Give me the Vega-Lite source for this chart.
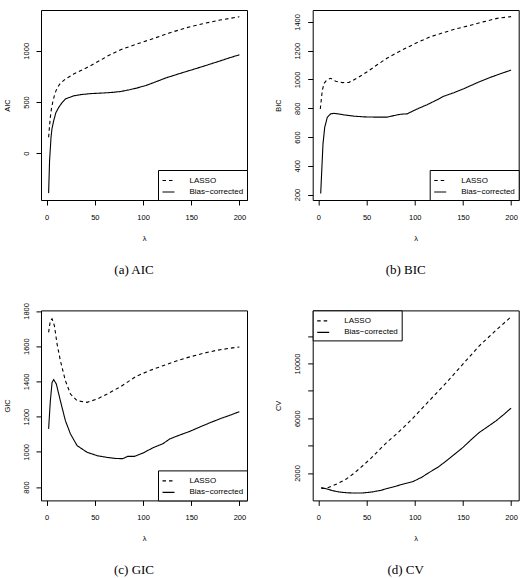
{
  "$schema": "https://vega.github.io/schema/vega-lite/v6.json",
  "background": "white",
  "padding": {"left": 2, "top": 9, "right": 0, "bottom": 0},
  "bounds": "flush",
  "columns": 2,
  "spacing": {"row": 110.4, "column": 65.7},
  "config": {
    "font": "Liberation Sans",
    "view": {"stroke": "black", "strokeWidth": 1},
    "line": {"color": "black", "strokeWidth": 1.1},
    "axis": {
      "domain": false, "grid": false, "ticks": true, "tickColor": "black", "tickSize": 5, "tickWidth": 1,
      "labelFont": "Liberation Sans", "labelFontSize": 7.5, "labelColor": "black",
      "titleFont": "Liberation Sans", "titleFontSize": 7.5, "titleFontWeight": "normal", "titleColor": "black",
      "labelFlush": false, "labelOverlap": false
    },
    "axisX": {"labelPadding": 8, "titlePadding": 14, "labelAngle": 0},
    "axisY": {"labelAngle": -90, "labelAlign": "center", "labelBaseline": "bottom", "labelPadding": 6, "titlePadding": 11},
    "legend": {
      "title": null, "strokeColor": "black", "fillColor": "white", "padding": 3.5, "cornerRadius": 0,
      "labelFont": "Liberation Sans", "labelFontSize": 8, "labelColor": "black", "labelOffset": 14,
      "symbolType": "stroke", "symbolSize": 144, "symbolStrokeWidth": 1, "symbolStrokeColor": "black",
      "rowPadding": 0.5, "offset": 0
    },
    "title": {"font": "Liberation Serif", "fontSize": 13, "fontWeight": "normal", "color": "black", "orient": "bottom", "anchor": "middle", "offset": 22, "dx": -10}
  },
  "datasets": {
    "aic": [
      {"method": "LASSO", "lambda": 2, "value": 156}, {"method": "LASSO", "lambda": 3, "value": 270}, {"method": "LASSO", "lambda": 3.8, "value": 350}, {"method": "LASSO", "lambda": 5, "value": 440}, {"method": "LASSO", "lambda": 6.6, "value": 513}, {"method": "LASSO", "lambda": 8.5, "value": 580}, {"method": "LASSO", "lambda": 10.8, "value": 637}, {"method": "LASSO", "lambda": 14, "value": 680}, {"method": "LASSO", "lambda": 19.4, "value": 724}, {"method": "LASSO", "lambda": 28, "value": 773}, {"method": "LASSO", "lambda": 35, "value": 805}, {"method": "LASSO", "lambda": 45.5, "value": 854}, {"method": "LASSO", "lambda": 58, "value": 920}, {"method": "LASSO", "lambda": 63, "value": 948}, {"method": "LASSO", "lambda": 76.7, "value": 1010}, {"method": "LASSO", "lambda": 93, "value": 1065}, {"method": "LASSO", "lambda": 110, "value": 1117}, {"method": "LASSO", "lambda": 128, "value": 1176}, {"method": "LASSO", "lambda": 145, "value": 1225}, {"method": "LASSO", "lambda": 162, "value": 1264}, {"method": "LASSO", "lambda": 180, "value": 1300}, {"method": "LASSO", "lambda": 200, "value": 1332},
      {"method": "Bias−corrected", "lambda": 2, "value": -389}, {"method": "Bias−corrected", "lambda": 3, "value": -71}, {"method": "Bias−corrected", "lambda": 4.5, "value": 156}, {"method": "Bias−corrected", "lambda": 5.5, "value": 240}, {"method": "Bias−corrected", "lambda": 7.3, "value": 318}, {"method": "Bias−corrected", "lambda": 9.5, "value": 395}, {"method": "Bias−corrected", "lambda": 12.5, "value": 448}, {"method": "Bias−corrected", "lambda": 16, "value": 495}, {"method": "Bias−corrected", "lambda": 19.4, "value": 530}, {"method": "Bias−corrected", "lambda": 28, "value": 560}, {"method": "Bias−corrected", "lambda": 35, "value": 572}, {"method": "Bias−corrected", "lambda": 45.5, "value": 582}, {"method": "Bias−corrected", "lambda": 58, "value": 588}, {"method": "Bias−corrected", "lambda": 68, "value": 594}, {"method": "Bias−corrected", "lambda": 77, "value": 603}, {"method": "Bias−corrected", "lambda": 86, "value": 620}, {"method": "Bias−corrected", "lambda": 93, "value": 635}, {"method": "Bias−corrected", "lambda": 103, "value": 661}, {"method": "Bias−corrected", "lambda": 114, "value": 700}, {"method": "Bias−corrected", "lambda": 124, "value": 736}, {"method": "Bias−corrected", "lambda": 135, "value": 769}, {"method": "Bias−corrected", "lambda": 148.5, "value": 808}, {"method": "Bias−corrected", "lambda": 162, "value": 847}, {"method": "Bias−corrected", "lambda": 176, "value": 889}, {"method": "Bias−corrected", "lambda": 190, "value": 932}, {"method": "Bias−corrected", "lambda": 200, "value": 961}
    ],
    "bic": [
      {"method": "LASSO", "lambda": 2, "value": 795}, {"method": "LASSO", "lambda": 4, "value": 922}, {"method": "LASSO", "lambda": 5.9, "value": 973}, {"method": "LASSO", "lambda": 8.6, "value": 996}, {"method": "LASSO", "lambda": 12.8, "value": 1008}, {"method": "LASSO", "lambda": 18, "value": 987}, {"method": "LASSO", "lambda": 25, "value": 978}, {"method": "LASSO", "lambda": 31.8, "value": 980}, {"method": "LASSO", "lambda": 40.4, "value": 1010}, {"method": "LASSO", "lambda": 50.8, "value": 1054}, {"method": "LASSO", "lambda": 61, "value": 1102}, {"method": "LASSO", "lambda": 71.5, "value": 1149}, {"method": "LASSO", "lambda": 82, "value": 1188}, {"method": "LASSO", "lambda": 92, "value": 1222}, {"method": "LASSO", "lambda": 102.6, "value": 1257}, {"method": "LASSO", "lambda": 116, "value": 1296}, {"method": "LASSO", "lambda": 130, "value": 1326}, {"method": "LASSO", "lambda": 144, "value": 1354}, {"method": "LASSO", "lambda": 158, "value": 1377}, {"method": "LASSO", "lambda": 172, "value": 1402}, {"method": "LASSO", "lambda": 185.5, "value": 1425}, {"method": "LASSO", "lambda": 200, "value": 1437},
      {"method": "Bias−corrected", "lambda": 2.4, "value": 207}, {"method": "Bias−corrected", "lambda": 3.5, "value": 368}, {"method": "Bias−corrected", "lambda": 4.8, "value": 553}, {"method": "Bias−corrected", "lambda": 6.6, "value": 668}, {"method": "Bias−corrected", "lambda": 9.3, "value": 738}, {"method": "Bias−corrected", "lambda": 12.8, "value": 761}, {"method": "Bias−corrected", "lambda": 16.2, "value": 765}, {"method": "Bias−corrected", "lambda": 26.6, "value": 754}, {"method": "Bias−corrected", "lambda": 37, "value": 745}, {"method": "Bias−corrected", "lambda": 47.3, "value": 740}, {"method": "Bias−corrected", "lambda": 61, "value": 738}, {"method": "Bias−corrected", "lambda": 71.5, "value": 738}, {"method": "Bias−corrected", "lambda": 78.4, "value": 749}, {"method": "Bias−corrected", "lambda": 85, "value": 758}, {"method": "Bias−corrected", "lambda": 92, "value": 761}, {"method": "Bias−corrected", "lambda": 102.6, "value": 795}, {"method": "Bias−corrected", "lambda": 113, "value": 825}, {"method": "Bias−corrected", "lambda": 123, "value": 858}, {"method": "Bias−corrected", "lambda": 130, "value": 883}, {"method": "Bias−corrected", "lambda": 140.6, "value": 908}, {"method": "Bias−corrected", "lambda": 151, "value": 936}, {"method": "Bias−corrected", "lambda": 165, "value": 978}, {"method": "Bias−corrected", "lambda": 178.6, "value": 1015}, {"method": "Bias−corrected", "lambda": 192, "value": 1047}, {"method": "Bias−corrected", "lambda": 200, "value": 1065}
    ],
    "gic": [
      {"method": "LASSO", "lambda": 2, "value": 1678}, {"method": "LASSO", "lambda": 3.8, "value": 1745}, {"method": "LASSO", "lambda": 5.6, "value": 1755}, {"method": "LASSO", "lambda": 8, "value": 1716}, {"method": "LASSO", "lambda": 10.8, "value": 1612}, {"method": "LASSO", "lambda": 14.2, "value": 1518}, {"method": "LASSO", "lambda": 19.4, "value": 1404}, {"method": "LASSO", "lambda": 24.7, "value": 1328}, {"method": "LASSO", "lambda": 31.6, "value": 1290}, {"method": "LASSO", "lambda": 42, "value": 1281}, {"method": "LASSO", "lambda": 52.4, "value": 1300}, {"method": "LASSO", "lambda": 62.9, "value": 1328}, {"method": "LASSO", "lambda": 76.7, "value": 1370}, {"method": "LASSO", "lambda": 93, "value": 1429}, {"method": "LASSO", "lambda": 106.8, "value": 1461}, {"method": "LASSO", "lambda": 120.7, "value": 1489}, {"method": "LASSO", "lambda": 134.6, "value": 1516}, {"method": "LASSO", "lambda": 148.5, "value": 1539}, {"method": "LASSO", "lambda": 162.4, "value": 1559}, {"method": "LASSO", "lambda": 176, "value": 1576}, {"method": "LASSO", "lambda": 190, "value": 1588}, {"method": "LASSO", "lambda": 200, "value": 1595},
      {"method": "Bias−corrected", "lambda": 2, "value": 1130}, {"method": "Bias−corrected", "lambda": 3.8, "value": 1290}, {"method": "Bias−corrected", "lambda": 5.6, "value": 1394}, {"method": "Bias−corrected", "lambda": 7.3, "value": 1410}, {"method": "Bias−corrected", "lambda": 10, "value": 1385}, {"method": "Bias−corrected", "lambda": 14.2, "value": 1290}, {"method": "Bias−corrected", "lambda": 19.4, "value": 1177}, {"method": "Bias−corrected", "lambda": 24.7, "value": 1101}, {"method": "Bias−corrected", "lambda": 31.6, "value": 1035}, {"method": "Bias−corrected", "lambda": 42, "value": 997}, {"method": "Bias−corrected", "lambda": 52.4, "value": 978}, {"method": "Bias−corrected", "lambda": 62.9, "value": 968}, {"method": "Bias−corrected", "lambda": 72, "value": 962}, {"method": "Bias−corrected", "lambda": 79, "value": 961}, {"method": "Bias−corrected", "lambda": 84, "value": 974}, {"method": "Bias−corrected", "lambda": 91, "value": 974}, {"method": "Bias−corrected", "lambda": 100, "value": 993}, {"method": "Bias−corrected", "lambda": 110, "value": 1022}, {"method": "Bias−corrected", "lambda": 120.7, "value": 1046}, {"method": "Bias−corrected", "lambda": 127.7, "value": 1073}, {"method": "Bias−corrected", "lambda": 138, "value": 1095}, {"method": "Bias−corrected", "lambda": 148.5, "value": 1116}, {"method": "Bias−corrected", "lambda": 159, "value": 1141}, {"method": "Bias−corrected", "lambda": 169, "value": 1164}, {"method": "Bias−corrected", "lambda": 180, "value": 1188}, {"method": "Bias−corrected", "lambda": 190, "value": 1207}, {"method": "Bias−corrected", "lambda": 200, "value": 1228}
    ],
    "cv": [
      {"method": "LASSO", "lambda": 3, "value": 876}, {"method": "LASSO", "lambda": 8, "value": 870}, {"method": "LASSO", "lambda": 15, "value": 1073}, {"method": "LASSO", "lambda": 22, "value": 1300}, {"method": "LASSO", "lambda": 29, "value": 1562}, {"method": "LASSO", "lambda": 37, "value": 1980}, {"method": "LASSO", "lambda": 46, "value": 2533}, {"method": "LASSO", "lambda": 55, "value": 3100}, {"method": "LASSO", "lambda": 64, "value": 3752}, {"method": "LASSO", "lambda": 72, "value": 4300}, {"method": "LASSO", "lambda": 81, "value": 4847}, {"method": "LASSO", "lambda": 90, "value": 5450}, {"method": "LASSO", "lambda": 98, "value": 6000}, {"method": "LASSO", "lambda": 115, "value": 7278}, {"method": "LASSO", "lambda": 133, "value": 8614}, {"method": "LASSO", "lambda": 150, "value": 9957}, {"method": "LASSO", "lambda": 167, "value": 11293}, {"method": "LASSO", "lambda": 184.5, "value": 12439}, {"method": "LASSO", "lambda": 200, "value": 13410},
      {"method": "Bias−corrected", "lambda": 3, "value": 949}, {"method": "Bias−corrected", "lambda": 8, "value": 850}, {"method": "Bias−corrected", "lambda": 15, "value": 708}, {"method": "Bias−corrected", "lambda": 22, "value": 610}, {"method": "Bias−corrected", "lambda": 29, "value": 560}, {"method": "Bias−corrected", "lambda": 38, "value": 535}, {"method": "Bias−corrected", "lambda": 46, "value": 545}, {"method": "Bias−corrected", "lambda": 55, "value": 610}, {"method": "Bias−corrected", "lambda": 64, "value": 720}, {"method": "Bias−corrected", "lambda": 72, "value": 880}, {"method": "Bias−corrected", "lambda": 81, "value": 1050}, {"method": "Bias−corrected", "lambda": 90, "value": 1230}, {"method": "Bias−corrected", "lambda": 98, "value": 1370}, {"method": "Bias−corrected", "lambda": 107, "value": 1680}, {"method": "Bias−corrected", "lambda": 115, "value": 2040}, {"method": "Bias−corrected", "lambda": 124, "value": 2420}, {"method": "Bias−corrected", "lambda": 133, "value": 2898}, {"method": "Bias−corrected", "lambda": 141, "value": 3350}, {"method": "Bias−corrected", "lambda": 150, "value": 3869}, {"method": "Bias−corrected", "lambda": 158, "value": 4400}, {"method": "Bias−corrected", "lambda": 167, "value": 4964}, {"method": "Bias−corrected", "lambda": 176, "value": 5400}, {"method": "Bias−corrected", "lambda": 184.5, "value": 5818}, {"method": "Bias−corrected", "lambda": 192, "value": 6250}, {"method": "Bias−corrected", "lambda": 200, "value": 6745}
    ]
  },
  "concat": [
    {
      "width": 206, "height": 190,
      "title": "(a) AIC",
      "data": {"name": "aic"},
      "mark": {"type": "line", "clip": true},
      "encoding": {
        "x": {"field": "lambda", "type": "quantitative", "title": "λ", "scale": {"domain": [-5.9, 207.9], "nice": false, "zero": false}, "axis": {"values": [0, 50, 100, 150, 200]}},
        "y": {"field": "value", "type": "quantitative", "title": "AIC", "scale": {"domain": [-456, 1398], "nice": false, "zero": false}, "axis": {"values": [0, 500, 1000], "format": "d"}},
        "strokeDash": {"field": "method", "type": "nominal", "scale": {"domain": ["LASSO", "Bias−corrected"], "range": [[3.5, 3], [1, 0]]}, "legend": {"orient": "bottom-right"}},
        "order": {"field": "lambda", "type": "quantitative"}
      }
    },
    {
      "width": 206, "height": 190,
      "title": "(b) BIC",
      "data": {"name": "bic"},
      "mark": {"type": "line", "clip": true},
      "encoding": {
        "x": {"field": "lambda", "type": "quantitative", "title": "λ", "scale": {"domain": [-5.9, 207.9], "nice": false, "zero": false}, "axis": {"values": [0, 50, 100, 150, 200]}},
        "y": {"field": "value", "type": "quantitative", "title": "BIC", "scale": {"domain": [162, 1483], "nice": false, "zero": false}, "axis": {"values": [200, 400, 600, 800, 1000, 1200, 1400], "format": "d"}},
        "strokeDash": {"field": "method", "type": "nominal", "scale": {"domain": ["LASSO", "Bias−corrected"], "range": [[3.5, 3], [1, 0]]}, "legend": {"orient": "bottom-right"}},
        "order": {"field": "lambda", "type": "quantitative"}
      }
    },
    {
      "width": 206, "height": 190,
      "title": "(c) GIC",
      "data": {"name": "gic"},
      "mark": {"type": "line", "clip": true},
      "encoding": {
        "x": {"field": "lambda", "type": "quantitative", "title": "λ", "scale": {"domain": [-5.9, 207.9], "nice": false, "zero": false}, "axis": {"values": [0, 50, 100, 150, 200]}},
        "y": {"field": "value", "type": "quantitative", "title": "GIC", "scale": {"domain": [724, 1803], "nice": false, "zero": false}, "axis": {"values": [800, 1000, 1200, 1400, 1600, 1800], "format": "d"}},
        "strokeDash": {"field": "method", "type": "nominal", "scale": {"domain": ["LASSO", "Bias−corrected"], "range": [[3.5, 3], [1, 0]]}, "legend": {"orient": "bottom-right"}},
        "order": {"field": "lambda", "type": "quantitative"}
      }
    },
    {
      "width": 206, "height": 190,
      "title": "(d) CV",
      "data": {"name": "cv"},
      "mark": {"type": "line", "clip": true},
      "encoding": {
        "x": {"field": "lambda", "type": "quantitative", "title": "λ", "scale": {"domain": [-5.9, 207.9], "nice": false, "zero": false}, "axis": {"values": [0, 50, 100, 150, 200]}},
        "y": {"field": "value", "type": "quantitative", "title": "CV", "scale": {"domain": [0, 13880], "nice": false, "zero": false}, "axis": {"values": [2000, 4000, 6000, 8000, 10000, 12000], "format": "d", "labelExpr": "datum.value % 4000 == 2000 ? datum.label : ''"}},
        "strokeDash": {"field": "method", "type": "nominal", "scale": {"domain": ["LASSO", "Bias−corrected"], "range": [[3.5, 3], [1, 0]]}, "legend": {"orient": "top-left"}},
        "order": {"field": "lambda", "type": "quantitative"}
      }
    }
  ]
}
